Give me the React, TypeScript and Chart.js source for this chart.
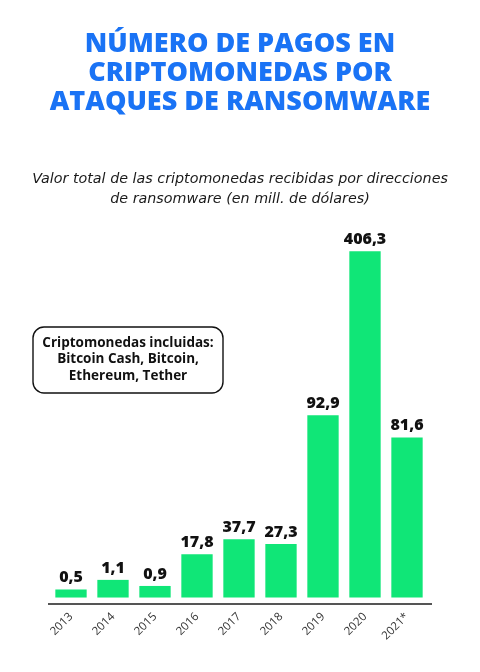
import React, { useEffect, useRef } from "react";
import { Chart, registerables } from "chart.js";

Chart.register(...registerables);

const titleLines = ["NÚMERO DE PAGOS EN", "CRIPTOMONEDAS POR", "ATAQUES DE RANSOMWARE"];
const subtitleLines = [
  "Valor total de las criptomonedas recibidas por direcciones",
  "de ransomware (en mill. de dólares)",
];
const noteLines = ["Criptomonedas incluidas:", "Bitcoin Cash, Bitcoin,", "Ethereum, Tether"];

const years = ["2013", "2014", "2015", "2016", "2017", "2018", "2019", "2020", "2021*"];
// Values printed above the bars (mill. USD)
const values = [0.5, 1.1, 0.9, 17.8, 37.7, 27.3, 92.9, 406.3, 81.6];
// Bar lengths as drawn in the infographic (not proportional for small / largest values)
const drawnLengths = [4.1, 9.0, 5.9, 22.1, 29.7, 27.3, 92.9, 176.5, 81.6];

const fmt = (v: number) => v.toFixed(1).replace(".", ",");

const labelsPlugin = {
  id: "valueLabels",
  afterDatasetsDraw(chart: any) {
    const ctx = chart.ctx;
    const meta = chart.getDatasetMeta(0);
    ctx.save();
    ctx.font = "800 16px 'Open Sans'";
    ctx.fillStyle = "#111";
    ctx.textAlign = "center";
    ctx.textBaseline = "alphabetic";
    meta.data.forEach((bar: any, i: number) => {
      ctx.fillText(fmt(values[i]), bar.x, bar.y - 7);
    });
    ctx.restore();
  },
};

const notePlugin = {
  id: "noteBox",
  afterDraw(chart: any) {
    const ctx = chart.ctx;
    const x = 33, y = 327, w = 190, h = 66, r = 11;
    ctx.save();
    ctx.beginPath();
    ctx.roundRect(x, y, w, h, r);
    ctx.fillStyle = "#fff";
    ctx.fill();
    ctx.lineWidth = 1.4;
    ctx.strokeStyle = "#111";
    ctx.stroke();
    ctx.font = "700 13.5px 'Open Sans'";
    ctx.fillStyle = "#111";
    ctx.textAlign = "center";
    ctx.textBaseline = "middle";
    noteLines.forEach((t, i) => ctx.fillText(t, x + w / 2, 343 + i * 16.5));
    ctx.restore();
  },
};

const axisPlugin = {
  id: "axisLine",
  afterDatasetsDraw(chart: any) {
    const { ctx, chartArea } = chart;
    ctx.save();
    ctx.strokeStyle = "#555";
    ctx.lineWidth = 2;
    ctx.beginPath();
    ctx.moveTo(chartArea.left - 2, chartArea.bottom);
    ctx.lineTo(chartArea.right + 4, chartArea.bottom);
    ctx.stroke();
    ctx.restore();
  },
};

export default function App() {
  const ref = useRef<HTMLCanvasElement | null>(null);
  useEffect(() => {
    if (!ref.current) return;
    const chart = new Chart(ref.current, {
      type: "bar",
      data: {
        labels: years,
        datasets: [
          {
            data: drawnLengths,
            backgroundColor: "#10e677",
            borderWidth: 0,
            categoryPercentage: 1,
            barPercentage: 0.746,
          },
        ],
      },
      options: {
        animation: false,
        responsive: false,
        maintainAspectRatio: false,
        layout: { padding: 0 },
        plugins: {
          legend: { display: false },
          tooltip: { enabled: false },
          title: {
            display: true,
            text: titleLines,
            color: "#1a73f5",
            font: { family: "'Open Sans'", size: 27, weight: "800", lineHeight: 29 / 27 },
            padding: { top: 30, bottom: 52 },
          },
          subtitle: {
            display: true,
            text: subtitleLines,
            color: "#1a1a1a",
            font: { family: "'DejaVu Sans'", size: 14.3, style: "italic", lineHeight: 20 / 14.3 },
            padding: { top: 0, bottom: 19 },
          },
        },
        scales: {
          x: {
            grid: { display: false, drawTicks: false },
            border: { display: false },
            ticks: {
              minRotation: 45,
              maxRotation: 45,
              color: "#333",
              padding: 6,
              font: { family: "'Open Sans'", size: 11.5 },
            },
            afterFit: (scale: any) => {
              scale.height = 68;
            },
          },
          y: {
            position: "left",
            min: -3.3,
            max: 188.4,
            grid: { display: false, drawTicks: false },
            border: { display: false },
            ticks: { display: false },
            afterFit: (scale: any) => {
              scale.width = 50;
            },
          },
          yRight: {
            position: "right",
            min: -3.3,
            max: 188.4,
            grid: { display: false, drawTicks: false },
            border: { display: false },
            ticks: { display: false },
            afterFit: (scale: any) => {
              scale.width = 52;
            },
          },
        },
      },
      plugins: [axisPlugin, labelsPlugin, notePlugin],
    });
    return () => chart.destroy();
  }, []);
  return (
    <div style={{ position: "fixed", left: 0, top: 0, width: 480, height: 672, background: "#fff" }}>
      <canvas ref={ref} width={480} height={672} style={{ width: 480, height: 672, display: "block" }} />
    </div>
  );
}
